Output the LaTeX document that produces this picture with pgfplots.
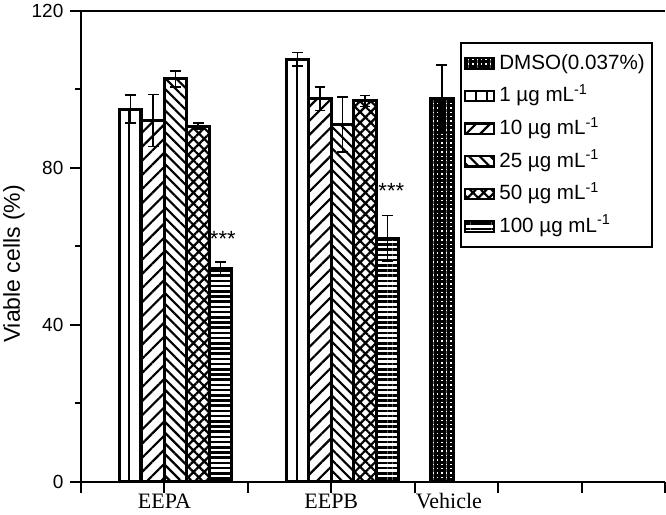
\documentclass[border=0pt]{standalone}
\usepackage{fontspec}
\setmainfont{Liberation Sans}
\newfontfamily\tnr{Liberation Serif}
\usepackage{pgfplots}
\usepackage{pgfplotstable}
\pgfplotsset{compat=1.18}
\usetikzlibrary{patterns.meta}

\pgfplotstableread{
x y e
5 97.6 8.6
}\dmso
\pgfplotstableread{
x y e
1 95.0 3.6
3 107.7 1.7
}\one
\pgfplotstableread{
x y e
1 92.1 6.6
3 97.7 3.0
}\ten
\pgfplotstableread{
x y e
1 102.7 2.0
3 91.1 7.0
}\twentyfive
\pgfplotstableread{
x y e
1 90.7 0.8
3 97.1 1.4
}\fifty
\pgfplotstableread{
x y e
1 54.4 1.6
3 62.1 5.8
}\hundred

\begin{document}
\begin{tikzpicture}
\begin{axis}[
  scale only axis, width=292pt, height=235.5pt,
  xmin=0, xmax=7, ymin=0, ymax=120,
  axis x line*=box, axis y line*=left,
  tick pos=left,
  xtick={0,...,7}, xticklabels={,EEPA,,EEPB,,,,},
  extra x ticks={4.41}, extra x tick labels={Vehicle},
  extra x tick style={tick style={draw=none}},
  xticklabel style={font=\tnr\fontsize{11}{12}\selectfont, yshift=3pt},
  ytick={0,40,80,120}, minor ytick={20,60,100},
  yticklabel style={font=\fontsize{9.5}{10}\selectfont},
  /pgf/number format/assume math mode=true,
  tick align=outside, major tick length=5.3pt, minor tick length=3pt,
  every tick/.style={black,line width=1pt},
  axis line style={line width=1.3pt},
  ylabel={Viable cells (\%)},
  every axis y label/.style={at={(axis description cs:-0.1147,0.463)}, rotate=90, anchor=center, font=\fontsize{11.5}{13}\selectfont},
  ybar=0pt, bar width=11.25pt,
  error bars/y dir=both, error bars/y explicit,
  error bars/error bar style={line width=0.8pt,black,solid},
  error bars/error mark options={rotate=90, mark size=2.7pt, line width=0.8pt, black},
  every axis plot post/.append style={draw=black, line width=1.5pt,
     legend image code/.code={\draw[##1, line width=1.1pt] (0pt,-2.6pt) rectangle (14.5pt,2.6pt);}},
  legend cell align=left,
  legend style={at={(axis description cs:0.979,0.935)}, anchor=north east,
     draw=black, line width=1pt, font=\fontsize{10.3}{12}\selectfont,
     nodes={inner sep=2pt, text height=8.8pt, text depth=3pt},
     row sep=0.5pt, inner xsep=1.5pt, inner ysep=2.5pt},
]
\addplot[pattern={Hatch[angle=0,distance=2.2pt,line width=1.5pt]}] table[x=x,y=y,y error=e]{\dmso};
\addplot[pattern={Lines[angle=90,distance=5.6pt,line width=1pt,xshift=2.8pt]}] table[x=x,y=y,y error=e]{\one};
\addplot[pattern={Lines[angle=45,distance=5pt,line width=1.1pt]}] table[x=x,y=y,y error=e]{\ten};
\addplot[pattern={Lines[angle=-45,distance=3.8pt,line width=1.1pt]}] table[x=x,y=y,y error=e]{\twentyfive};
\addplot[pattern={Hatch[angle=45,distance=3.8pt,line width=1.1pt]}] table[x=x,y=y,y error=e]{\fifty};
\addplot[pattern={Lines[angle=0,distance=2.6pt,line width=1.3pt]}] table[x=x,y=y,y error=e]{\hundred};
\legend{DMSO(0.037\%), 1 µg mL\textsuperscript{-1}, 10 µg mL\textsuperscript{-1}, 25 µg mL\textsuperscript{-1}, 50 µg mL\textsuperscript{-1}, 100 µg mL\textsuperscript{-1}}
\node[font=\fontsize{11}{12}\selectfont, anchor=base] at (axis cs:1.70,60) {***};
\node[font=\fontsize{11}{12}\selectfont, anchor=base] at (axis cs:3.72,72.3) {***};
\end{axis}
\pgfresetboundingbox
\path[use as bounding box] ([shift={(-40.5pt,-16.5pt)}]current axis.south west) rectangle ([shift={(292.5pt,241pt)}]current axis.south west);
\end{tikzpicture}
\end{document}
